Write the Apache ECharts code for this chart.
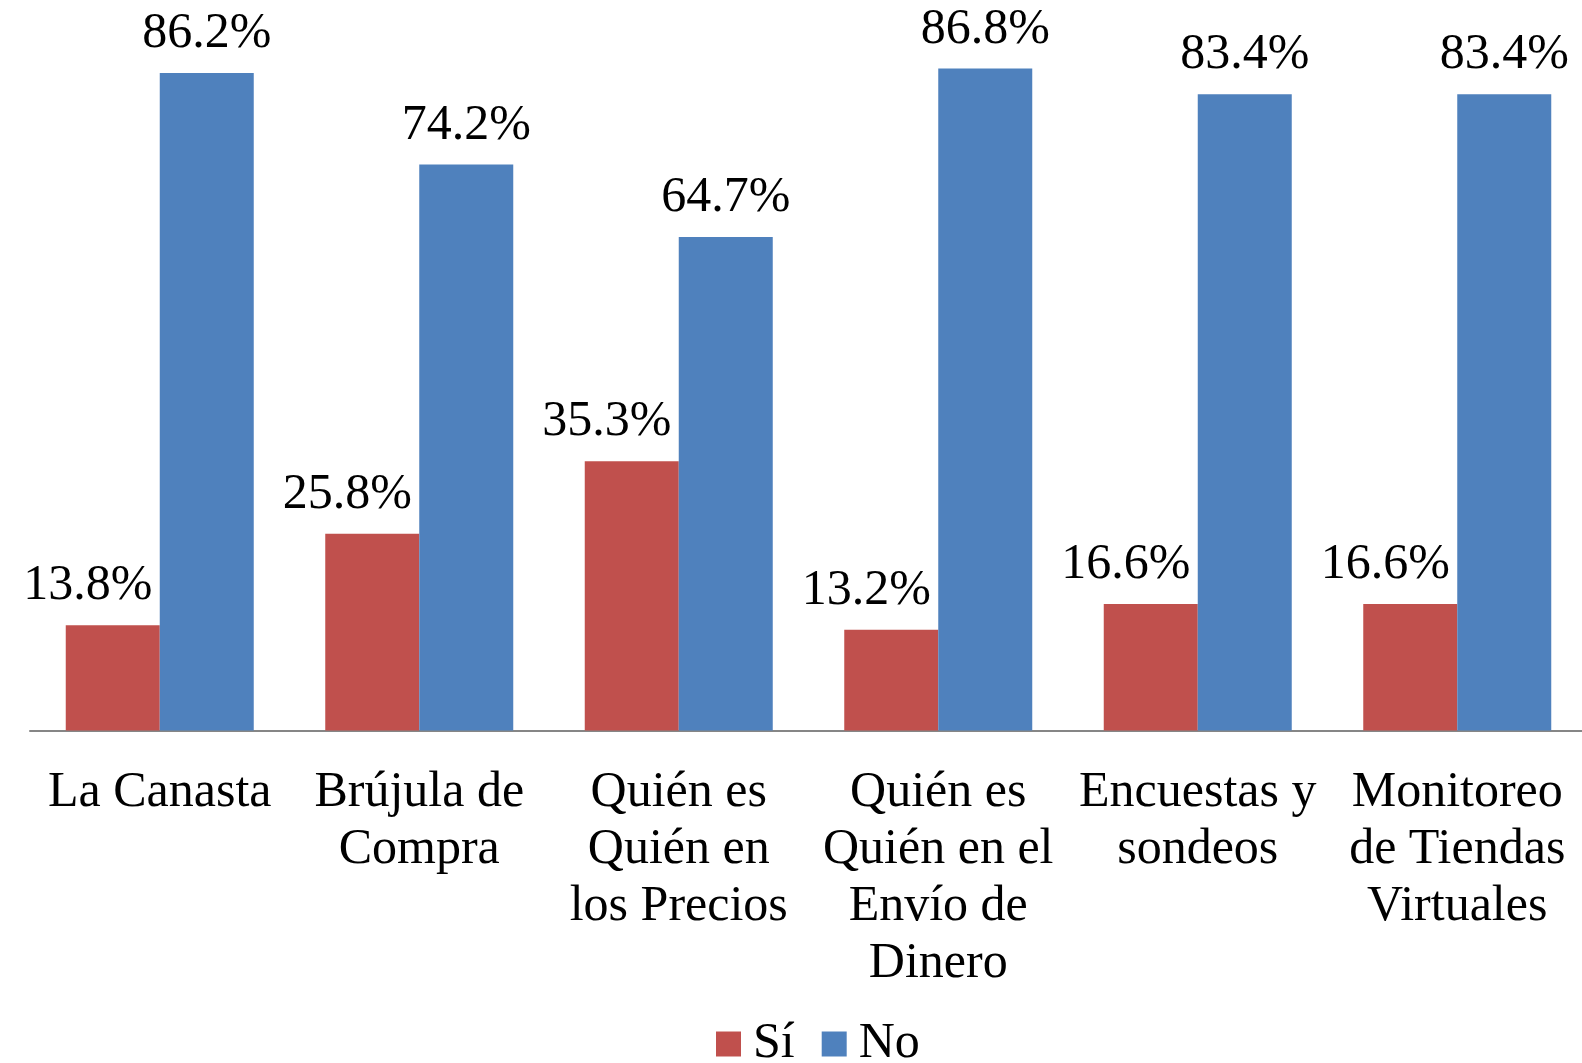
<!DOCTYPE html>
<html>
<head>
<meta charset="utf-8">
<title>Sí / No</title>
<script src="https://cdn.jsdelivr.net/npm/echarts@6/dist/echarts.min.js"></script>
<style>
    html, body { margin: 0; padding: 0; background: #fff; }
    #myChart { width: 1582px; height: 1063px; }
</style>
</head>
<body>
<div id="myChart"></div>
<script>
// 类目名称
var categories = [
    'La Canasta',
    'Brújula de\nCompra',
    'Quién es\nQuién en\nlos Precios',
    'Quién es\nQuién en el\nEnvío de\nDinero',
    'Encuestas y\nsondeos',
    'Monitoreo\nde Tiendas\nVirtuales'
];
var seriesNames = ['Sí', 'No'];
var siValues = [13.8, 25.8, 35.3, 13.2, 16.6, 16.6];
var noValues = [86.2, 74.2, 64.7, 86.8, 83.4, 83.4];

var fontName = '"Liberation Serif", "Times New Roman", serif';

var myChart = echarts.init(document.getElementById('myChart'));
var option;
option = {
    animation: false,
    backgroundColor: '#ffffff',
    color: ['#C0504D', '#4F81BD'],
    grid: {
        left: 30,
        width: 1557,
        top: 44,
        height: 686.5,
        containLabel: false,
        outerBoundsMode: 'none'
    },
    //图例
    legend: {
        data: seriesNames,
        left: 716,
        top: 1019,
        padding: 0,
        itemWidth: 25,
        itemHeight: 25,
        itemGap: 27,
        icon: 'rect',
        textStyle: {
            fontFamily: fontName,
            fontSize: 50,
            lineHeight: 50,
            color: '#000',
            padding: [0, 0, 0, 7]
        }
    },
    //配置X轴
    xAxis: {
        type: 'category',
        data: categories,
        axisTick: {show: false},
        axisLine: {
            lineStyle: {color: '#868686', width: 2}
        },
        axisLabel: {
            interval: 0,
            margin: 34,
            fontFamily: fontName,
            fontSize: 50,
            lineHeight: 57,
            color: '#000',
            align: 'center'
        }
    },
    //配置Y轴 (不显示)
    yAxis: {
        type: 'value',
        min: 0,
        max: 90,
        show: false,
        splitLine: {show: false}
    },
    series: [
        {
            name: seriesNames[0],
            type: 'bar',
            data: siValues,
            barWidth: 94,
            barGap: '0%',
            label: {
                show: true,
                position: 'top',
                distance: 14,
                offset: [-25, 0],
                formatter: '{c}%',
                fontFamily: fontName,
                fontSize: 50,
                lineHeight: 50,
                color: '#000'
            }
        },
        {
            name: seriesNames[1],
            type: 'bar',
            data: noValues,
            barWidth: 94,
            barGap: '0%',
            label: {
                show: true,
                position: 'top',
                distance: 14,
                formatter: '{c}%',
                fontFamily: fontName,
                fontSize: 50,
                lineHeight: 50,
                color: '#000'
            }
        }
    ]
};
option && myChart.setOption(option);
</script>
</body>
</html>
